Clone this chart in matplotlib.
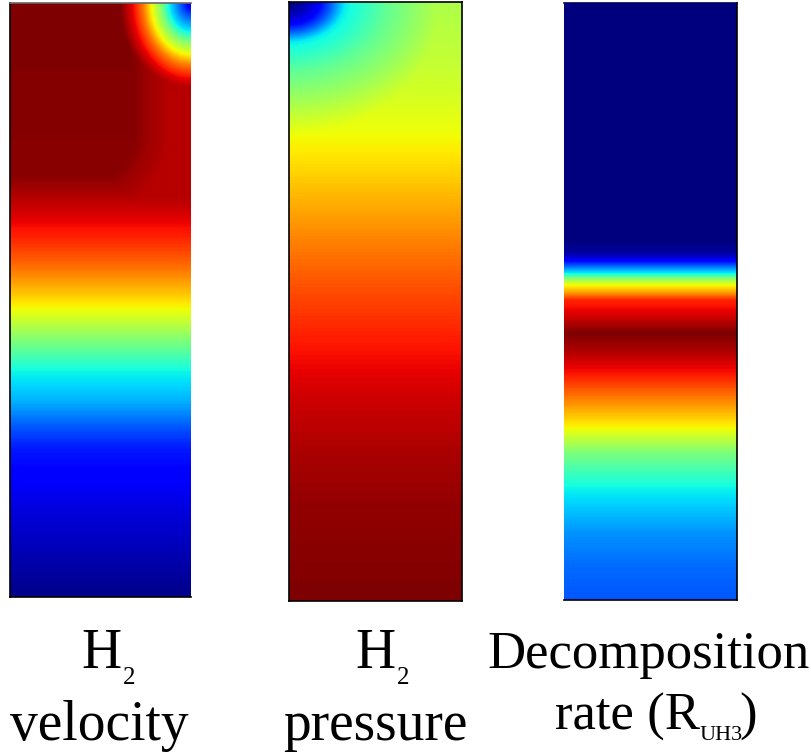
import numpy as np
import matplotlib
matplotlib.use("Agg")
import matplotlib.pyplot as plt

FIG_W, FIG_H = 812, 752
FONT = "Liberation Serif"

# vertical profiles, normalised depth (0 = top, 1 = bottom) -> normalised field value
vel_depth = [0.0, 0.29, 0.34, 0.39, 0.44, 0.48, 0.52, 0.57, 0.62, 0.67, 0.72, 0.75, 0.84, 1.0]
vel_value = [1.0, 0.99, 0.94, 0.88, 0.80, 0.72, 0.63, 0.50, 0.37, 0.30, 0.20, 0.15, 0.09, 0.01]

# outlet jet at the top right corner of the velocity domain (distance in px)
vel_ring_dist = [0, 12, 28, 38, 50, 62, 75, 92]
vel_ring_value = [0.08, 0.20, 0.36, 0.50, 0.63, 0.78, 0.90, 1.0]

pres_depth = [0.0, 0.11, 0.16, 0.22, 0.25, 0.33, 0.41, 0.50, 0.58, 0.66, 0.75, 0.83, 1.0]
pres_value = [0.56, 0.59, 0.61, 0.64, 0.66, 0.72, 0.78, 0.84, 0.89, 0.93, 0.96, 0.98, 1.0]

# inlet low-pressure spot at the top left corner
pres_ring_dist = [0, 10, 20, 30, 40, 70, 100, 140, 200, 300]
pres_ring_value = [0.0, 0.04, 0.10, 0.22, 0.36, 0.47, 0.55, 0.66, 0.75, 1.0]

rate_px = [0, 237, 250, 257, 267, 270, 277, 282, 290, 297, 314, 330, 347, 370, 390, 404, 424, 450, 484, 497, 530, 564, 597]
rate_value = [0.0, 0.0, 0.03, 0.11, 0.30, 0.36, 0.55, 0.64, 0.75, 0.87, 0.93, 1.0, 0.96, 0.89, 0.80, 0.74, 0.65, 0.50, 0.37, 0.34, 0.27, 0.23, 0.21]

# panel boxes in pixels: left, top, right, bottom
boxes = [(10, 3, 191, 597), (289, 2, 462, 601), (564, 3, 737, 600)]


def depth_field(h, w, depth, value):
    t = (np.arange(h) + 0.5) / h
    col = np.interp(t, depth, value)
    return np.repeat(col[:, None], w, axis=1)


def velocity_field(h, w):
    x = np.arange(w) + 0.5
    y = np.arange(h) + 0.5
    X, Y = np.meshgrid(x, y)
    base = depth_field(h, w, vel_depth, vel_value)
    # slower band beside the outlet wall with a rounded lower corner
    xr, yb, r = w - 46.0, 190.0, 60.0
    qx = X - (xr - r)
    qy = Y - (yb - r)
    sd = np.hypot(np.maximum(qx, 0), np.maximum(qy, 0)) + np.minimum(np.maximum(qx, qy), 0) - r
    band = np.interp(sd, [-15, 0, 25], [1.0, 0.975, 0.95])
    d = np.hypot((w - X) * 1.3, Y)
    ring = np.interp(d, vel_ring_dist, vel_ring_value)
    return np.minimum(np.minimum(base, band), ring)


def pressure_field(h, w):
    x = np.arange(w) + 0.5
    y = np.arange(h) + 0.5
    X, Y = np.meshgrid(x, y)
    base = depth_field(h, w, pres_depth, pres_value)
    d = np.hypot(X / 1.4, Y)
    ring = np.interp(d, pres_ring_dist, pres_ring_value)
    return np.minimum(base, ring)


def rate_field(h, w):
    y = np.arange(h) + 0.5
    col = np.interp(y, rate_px, rate_value)
    return np.repeat(col[:, None], w, axis=1)


fig = plt.figure(figsize=(FIG_W / 100, FIG_H / 100), dpi=100)
fields = [velocity_field, pressure_field, rate_field]
spine_sets = [
    {"left": "black", "bottom": "black", "top": "#666666", "right": None},
    {"left": "black", "bottom": "black", "top": "black", "right": "black"},
    {"left": None, "bottom": "black", "top": "#000060", "right": "black"},
]

for (l, t, r, b), make, spines in zip(boxes, fields, spine_sets):
    w, h = r - l, b - t
    ax = fig.add_axes([l / FIG_W, 1 - b / FIG_H, w / FIG_W, h / FIG_H])
    data = make(h, w)
    ax.imshow(data, cmap="jet", vmin=0, vmax=1, extent=[0, w, h, 0],
              aspect="auto", interpolation="bilinear")
    ax.set_xticks([])
    ax.set_yticks([])
    for side, color in spines.items():
        if color is None:
            ax.spines[side].set_visible(False)
        else:
            ax.spines[side].set_color(color)
            ax.spines[side].set_linewidth(1.2)


def label(x, y, s, size, ha="center"):
    fig.text(x / FIG_W, 1 - y / FIG_H, s, fontsize=size, family=FONT,
             ha=ha, va="baseline")


MAIN = 40
SUB = 18
label(101, 668, "H", MAIN)
label(123, 684, "2", SUB, ha="left")
label(99, 740, "velocity", MAIN)
label(375, 668, "H", MAIN)
label(397, 684, "2", SUB, ha="left")
label(375, 740, "pressure", MAIN)
label(649, 668, "Decomposition", 38)
label(700, 730, "rate (R", 38, ha="right")
label(700, 740, "UH3", 16, ha="left")
label(739, 730, ")", 38, ha="left")

fig.savefig("out.png", dpi=100)
